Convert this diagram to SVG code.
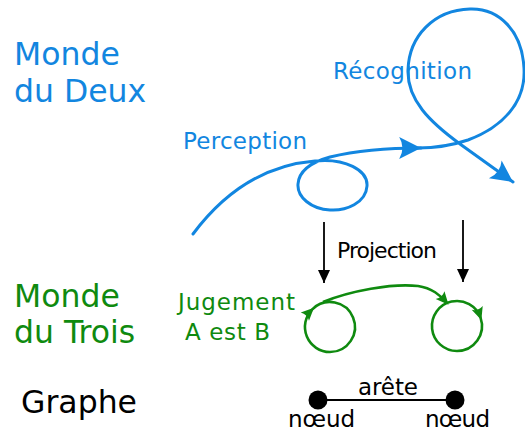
<svg xmlns="http://www.w3.org/2000/svg" width="525" height="435" viewBox="0 0 525 435">
  <style>
    text { font-family: "DejaVu Sans", Verdana, sans-serif; }
    .blue { fill: #1286e0; }
    .green { fill: #0f8a0f; }
    .black { fill: #000; }
    .title { font-size: 31.5px; }
    .lbl { font-size: 23px; }
    .bline { fill: none; stroke: #1286e0; stroke-width: 3; stroke-linecap: round; }
    .gline { fill: none; stroke: #0f8a0f; stroke-width: 2.6; }
    .kline { fill: none; stroke: #000; stroke-width: 1.8; }
  </style>
  <defs>
    <marker id="arrowBlue" markerUnits="userSpaceOnUse" markerWidth="24" markerHeight="24" viewBox="-21 -11 22 22" refX="0" refY="0" orient="auto" overflow="visible">
      <path d="M0,0 L-20,-10 Q-14,0 -20,10 Z" fill="#1286e0"/>
    </marker>
    <marker id="arrowGreen" markerUnits="userSpaceOnUse" markerWidth="14" markerHeight="14" viewBox="-11 -6 12 12" refX="0" refY="0" orient="auto" overflow="visible">
      <path d="M2,0 L-9,-5 Q-6,0 -9,5 Z" fill="#0f8a0f"/>
    </marker>
    <marker id="arrowBlack" markerUnits="userSpaceOnUse" markerWidth="14" markerHeight="14" viewBox="-13 -7 14 14" refX="0" refY="0" orient="auto" overflow="visible">
      <path d="M0,0 L-13,-6 L-13,6 Z" fill="#000"/>
    </marker>
  </defs>

  <!-- world labels -->
  <g id="monde-deux">
    <text class="title blue" x="14" y="65">Monde</text>
    <text class="title blue" x="14" y="102">du Deux</text>
  </g>
  <g id="monde-trois">
    <text class="title green" x="14" y="307">Monde</text>
    <text class="title green" x="14" y="343">du Trois</text>
  </g>
  <g id="graphe">
    <text class="title black" x="21" y="413">Graphe</text>
  </g>

  <!-- process labels -->
  <g id="perception">
    <text class="lbl blue" x="183" y="149" textLength="124">Perception</text>
  </g>
  <g id="recognition">
    <text class="lbl blue" x="333" y="79" textLength="139">Récognition</text>
  </g>
  <g id="projection">
    <text class="black" x="337" y="258" font-family="'Open Sans', 'Noto Sans', sans-serif" font-size="22" textLength="100">Projection</text>
  </g>
  <g id="jugement">
    <text class="lbl green" x="178" y="310" textLength="117">Jugement</text>
    <text class="lbl green" x="185" y="340" textLength="85">A est B</text>
  </g>

  <!-- Third-world loops (judgements) -->
  <g id="loop-a">
    <path class="gline" d="M330,352 A25,25 0 0 1 312.3,309.3 A25,25 0 1 1 330,352" marker-mid="url(#arrowGreen)"/>
  </g>
  <g id="loop-b">
    <path class="gline" d="M457,351 A25,25 0 1 1 480.6,317.9 A25,25 0 0 1 457,351" marker-mid="url(#arrowGreen)"/>
  </g>

  <!-- graph legend -->
  <g id="noeud-1">
    <circle cx="318" cy="400" r="9.5" fill="#000"/>
    <text class="lbl black" x="288" y="427" textLength="67">nœud</text>
  </g>
  <g id="noeud-2">
    <circle cx="455" cy="400" r="9.5" fill="#000"/>
    <text class="lbl black" x="425" y="427" textLength="65">nœud</text>
  </g>

  <g id="connectors">
    <!-- perception curve with curl -->
    <path class="bline" d="M193,234 C226,190 266,165 315,161 C345,158 368,170 367,186 C366,203 346,211 330,210 C311,209 297,197 298,184 C299,170 312,162 330,157 C355,151 385,148 421,148" marker-end="url(#arrowBlue)"/>
    <!-- recognition loop -->
    <path class="bline" d="M418,148 C436,148 450,146 468,140 C503,127 526,102 524,68 C522,32 500,8 470,9 C434,10 409,36 408,70 C407,100 430,122 460,144 L513,182" marker-end="url(#arrowBlue)"/>
    <!-- projection arrows -->
    <path class="kline" d="M324,222 L324,283" marker-end="url(#arrowBlack)"/>
    <path class="kline" d="M463,220 L463,282" marker-end="url(#arrowBlack)"/>
    <!-- judgement link -->
    <path class="gline" d="M323,302 C350,291 392,283 418,286 C432,288 440,295 447,303" marker-end="url(#arrowGreen)"/>
    <!-- graph edge -->
    <path class="kline" d="M318,400 L455,400" stroke-width="2.2"/>
    <text class="lbl black" x="358" y="395" textLength="60">arête</text>
  </g>
</svg>
